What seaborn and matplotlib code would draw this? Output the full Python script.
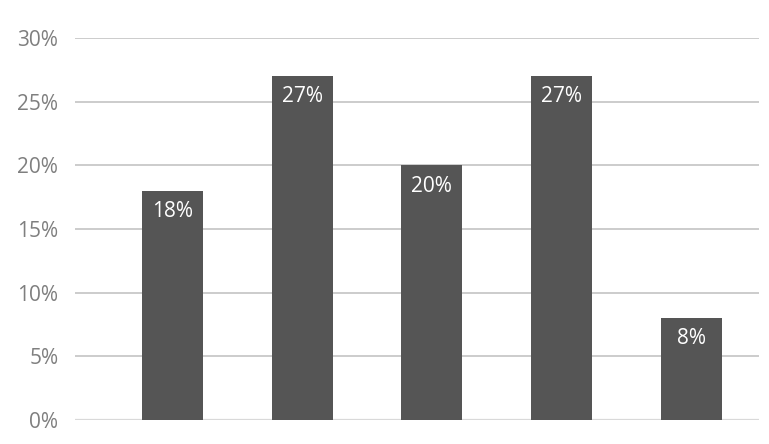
import numpy as np
import pandas as pd
import matplotlib
matplotlib.use("Agg")
import matplotlib.pyplot as plt
import seaborn as sns

# values (percent)
categories = ["A", "B", "C", "D", "E"]
shares = [18, 27, 20, 27, 8]
y_ticks = [0, 5, 10, 15, 20, 25, 30]

df = pd.DataFrame({"cat": categories, "share": shares})

sns.set_style("white")
plt.rcParams["font.family"] = ["Open Sans", "DejaVu Sans"]

fig = plt.figure(figsize=(7.69, 4.44), dpi=100)
ax = fig.add_axes([75 / 769, 24 / 444, 684 / 769, 382 / 444])

sns.barplot(data=df, x="cat", y="share", color="#555555", saturation=1,
            width=0.47, linewidth=0, ax=ax, zorder=3)

# labels inside the bar top
for i, v in enumerate(shares):
    ax.text(i, v - 0.8, f"{v}%", ha="center", va="top", color="white",
            fontsize=15, zorder=4)

ax.set_ylim(0, 30)
ax.set_xlim(-0.75, 4.52)
ax.set_yticks(y_ticks)
ax.set_yticklabels([f"{t}%" for t in y_ticks], color="#7f7f7f", fontsize=15)
ax.set_xticks([])
ax.tick_params(axis="y", length=0, pad=12)
ax.yaxis.grid(True, color="#cccccc", linewidth=1.4, zorder=0)
ax.set_xlabel("")
ax.set_ylabel("")
for s in ax.spines.values():
    s.set_visible(False)
ax.axhline(0, color="#d9d9d9", linewidth=1.6, zorder=2)

plt.savefig("out.png", dpi=100)
